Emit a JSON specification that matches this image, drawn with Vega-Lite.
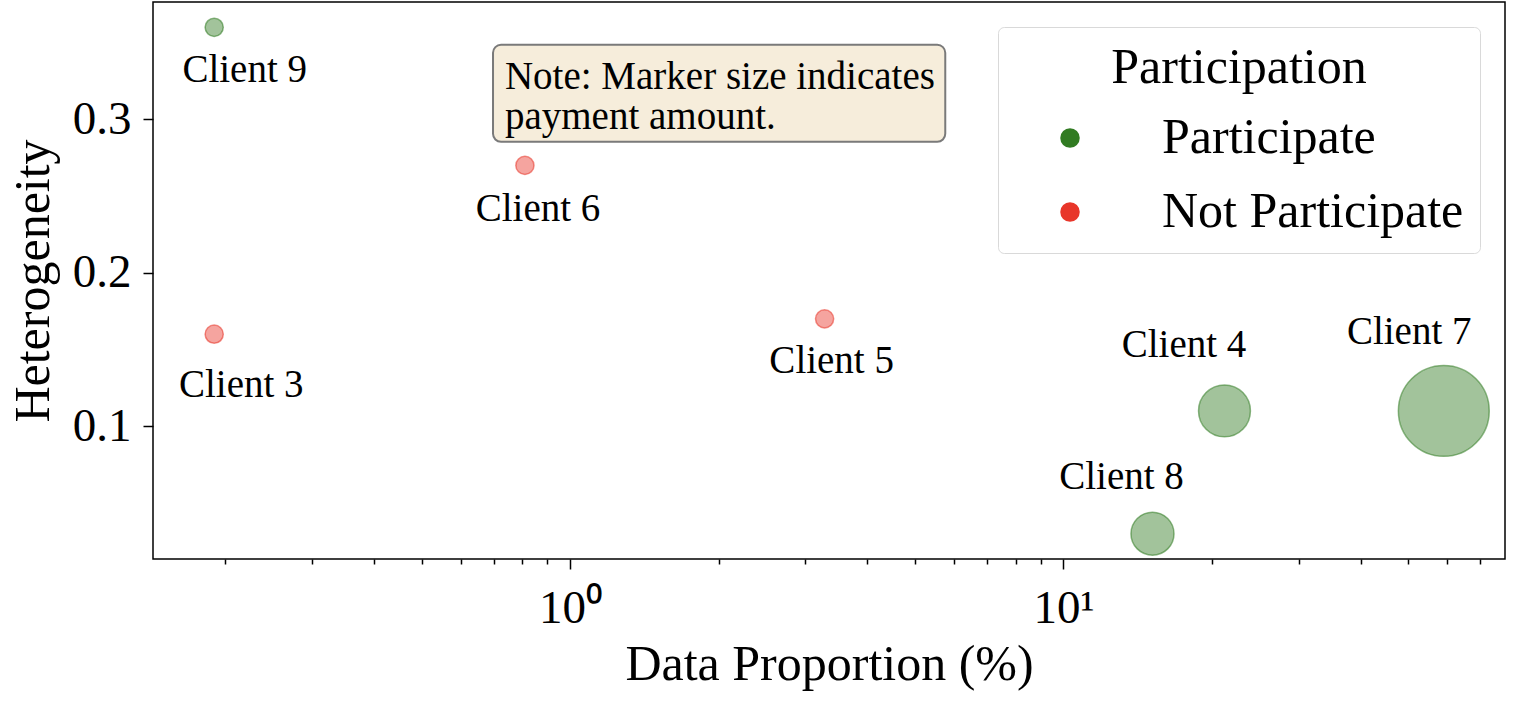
{
  "$schema": "https://vega.github.io/schema/vega-lite/v6.json",
  "width": 1352,
  "height": 557,
  "autosize": "none",
  "padding": {"left": 153, "top": 2, "right": 11, "bottom": 145},
  "background": "white",
  "config": {
    "view": {"stroke": "black", "strokeWidth": 1.5},
    "font": "Liberation Serif",
    "text": {"font": "Liberation Serif"}
  },
  "datasets": {
    "clients": [
      {"client": "Client 9", "proportion": 0.19, "heterogeneity": 0.36, "payment": 0, "participation": "Participate", "label_x": 0.2191, "label_y": 0.3245},
      {"client": "Client 3", "proportion": 0.19, "heterogeneity": 0.16, "payment": 0, "participation": "Not Participate", "label_x": 0.2156, "label_y": 0.1194},
      {"client": "Client 6", "proportion": 0.81, "heterogeneity": 0.27, "payment": 0, "participation": "Not Participate", "label_x": 0.861, "label_y": 0.234},
      {"client": "Client 5", "proportion": 3.28, "heterogeneity": 0.17, "payment": 0, "participation": "Not Participate", "label_x": 3.39, "label_y": 0.135},
      {"client": "Client 4", "proportion": 21.2, "heterogeneity": 0.11, "payment": 23.6, "participation": "Participate", "label_x": 17.55, "label_y": 0.1454},
      {"client": "Client 8", "proportion": 15.15, "heterogeneity": 0.03, "payment": 15.2, "participation": "Participate", "label_x": 13.11, "label_y": 0.0589},
      {"client": "Client 7", "proportion": 59, "heterogeneity": 0.11, "payment": 79.2, "participation": "Participate", "label_x": 50.2, "label_y": 0.1533}
    ],
    "note": [
      {"x1": 0.698, "x2": 5.76, "y1": 0.2854, "y2": 0.3486, "tx": 0.738, "ty": 0.3199, "text": "Note: Marker size indicates\npayment amount."}
    ]
  },
  "layer": [
    {
      "data": {"name": "note"},
      "mark": {"type": "rect", "fill": "#f6eddb", "stroke": "#7a7a7a", "strokeWidth": 2, "cornerRadius": 8},
      "encoding": {
        "x": {"field": "x1", "type": "quantitative", "title": "Data Proportion (%)"},
        "x2": {"field": "x2"},
        "y": {"field": "y1", "type": "quantitative", "title": "Heterogeneity"},
        "y2": {"field": "y2"}
      }
    },
    {
      "data": {"name": "note"},
      "mark": {"type": "text", "align": "left", "baseline": "alphabetic", "fontSize": 39, "lineBreak": "\n", "lineHeight": 40, "color": "black"},
      "encoding": {
        "x": {"field": "tx", "type": "quantitative", "title": "Data Proportion (%)"},
        "y": {"field": "ty", "type": "quantitative", "title": "Heterogeneity"},
        "text": {"field": "text"}
      }
    },
    {
      "data": {"name": "clients"},
      "mark": {"type": "circle", "fillOpacity": 0.45, "strokeOpacity": 0.55, "strokeWidth": 1.5},
      "encoding": {
        "x": {
          "field": "proportion", "type": "quantitative", "title": "Data Proportion (%)",
          "scale": {"type": "log", "domain": [0.1428, 78.5], "nice": false},
          "axis": {
            "values": [0.2, 0.3, 0.4, 0.5, 0.6, 0.7, 0.8, 0.9, 1, 2, 3, 4, 5, 6, 7, 8, 9, 10, 20, 30, 40, 50, 60, 70],
            "labelExpr": "datum.value == 1 ? '10⁰' : (datum.value == 10 ? '10¹' : '')",
            "tickSize": {"condition": {"test": "datum.value == 1 || datum.value == 10", "value": 10}, "value": 5},
            "tickWidth": 1.5, "tickColor": "black",
            "domain": false, "grid": false,
            "labelFontSize": 47, "labelColor": "black", "labelFont": "Liberation Serif",
            "labelPadding": 16, "labelOverlap": false, "labelFlush": false, "labelBound": false,
            "titleFontSize": 50, "titleFontWeight": "normal", "titleColor": "black", "titleFont": "Liberation Serif",
            "titlePadding": 8
          }
        },
        "y": {
          "field": "heterogeneity", "type": "quantitative", "title": "Heterogeneity",
          "scale": {"domain": [0.0135, 0.3765], "nice": false, "zero": false},
          "axis": {
            "values": [0.1, 0.2, 0.3], "format": ".1f",
            "tickSize": 10, "tickWidth": 1.5, "tickColor": "black",
            "domain": false, "grid": false,
            "labelFontSize": 47, "labelColor": "black", "labelFont": "Liberation Serif", "labelPadding": 12,
            "titleFontSize": 50, "titleFontWeight": "normal", "titleColor": "black", "titleFont": "Liberation Serif",
            "titlePadding": 14
          }
        },
        "size": {
          "field": "payment", "type": "quantitative",
          "scale": {"domain": [0, 79.2], "range": [330, 8252], "zero": false},
          "legend": null
        },
        "color": {
          "field": "participation", "type": "nominal",
          "scale": {"domain": ["Participate", "Not Participate"], "range": ["#317b22", "#e8362a"]},
          "legend": {
            "title": "Participation", "orient": "top-right", "offset": 25, "padding": 16,
            "cornerRadius": 6, "strokeColor": "#d9d9d9", "fillColor": "white",
            "titleFontSize": 50, "titleFont": "Liberation Serif", "titleFontWeight": "normal", "titleColor": "black", "titleAnchor": "middle", "titlePadding": 20, "titleLimit": 0,
            "labelFontSize": 50, "labelFont": "Liberation Serif", "labelColor": "black", "labelLimit": 0,
            "symbolType": "circle", "symbolSize": 380, "symbolOpacity": 1, "symbolStrokeWidth": 0,
            "symbolOffset": 31, "labelOffset": 67, "rowPadding": 24
          }
        },
        "stroke": {
          "field": "participation", "type": "nominal",
          "scale": {"domain": ["Participate", "Not Participate"], "range": ["#317b22", "#e8362a"]},
          "legend": null
        }
      }
    },
    {
      "data": {"name": "clients"},
      "mark": {"type": "text", "align": "center", "baseline": "alphabetic", "fontSize": 39, "color": "black"},
      "encoding": {
        "x": {"field": "label_x", "type": "quantitative", "title": "Data Proportion (%)"},
        "y": {"field": "label_y", "type": "quantitative", "title": "Heterogeneity"},
        "text": {"field": "client"}
      }
    }
  ]
}
